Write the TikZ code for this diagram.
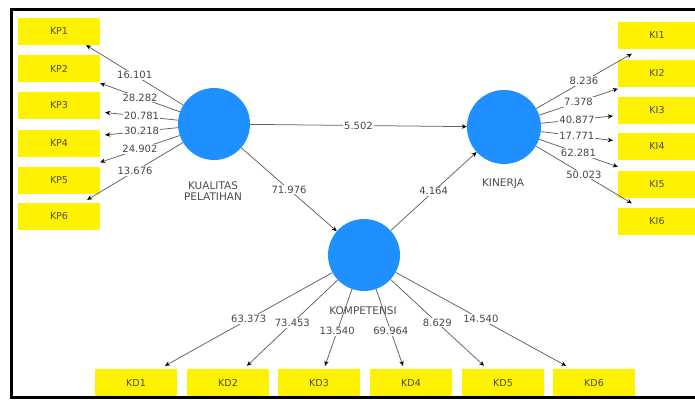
\documentclass[tikz,border=0pt]{standalone}
\usepackage{fontspec}
\setmainfont{DejaVu Sans}
\usetikzlibrary{arrows.meta}
\definecolor{latblue}{RGB}{30,144,255}

\begin{document}
\begin{tikzpicture}[x=1pt,y=-1pt,
  ind/.style={fill=yellow, minimum width=82pt, minimum height=27pt, inner sep=0pt,
    font=\fontsize{9.5}{9.5}\selectfont, text=black!70},
  lat/.style={circle, fill=latblue, minimum size=72pt, inner sep=0pt},
  lname/.style={font=\fontsize{10.5}{11.5}\selectfont, text=black!70, align=center},
  load/.style={draw=black!62, line width=0.75pt, -{Stealth[length=5pt,width=4.5pt,black]}},
  lbl/.style={fill=white, inner sep=1pt, font=\fontsize{10}{10}\selectfont, text=black!72}]
   \useasboundingbox (0,0) rectangle (695,399);

   % indicators of kualitas pelatihan
   \node[ind] (kp1) at (59,31.5) {KP1};
   \node[ind] (kp2) at (59,68.5) {KP2};
   \node[ind] (kp3) at (59,105.5) {KP3};
   \node[ind] (kp4) at (59,143) {KP4};
   \node[ind] (kp5) at (59,180) {KP5};
   \node[ind] (kp6) at (59,216.5) {KP6};

   % indicators of kinerja
   \node[ind, minimum width=78pt] (ki1) at (657,35) {KI1};
   \node[ind, minimum width=78pt] (ki2) at (657,73) {KI2};
   \node[ind, minimum width=78pt] (ki3) at (657,110) {KI3};
   \node[ind, minimum width=78pt] (ki4) at (657,146.5) {KI4};
   \node[ind, minimum width=78pt] (ki5) at (657,184.5) {KI5};
   \node[ind, minimum width=78pt] (ki6) at (657,221) {KI6};

   % indicators of kompetensi
   \node[ind, minimum height=28pt] (kd1) at (136,383) {KD1};
   \node[ind, minimum height=28pt] (kd2) at (228,383) {KD2};
   \node[ind, minimum height=28pt] (kd3) at (319,383) {KD3};
   \node[ind, minimum height=28pt] (kd4) at (411,383) {KD4};
   \node[ind, minimum height=28pt] (kd5) at (503,383) {KD5};
   \node[ind, minimum height=28pt] (kd6) at (594,383) {KD6};

   % latent variables
   \node[lat] (kq) at (214,124) {};
   \node[lat, minimum size=74pt] (kin) at (504,127) {};
   \node[lat] (kom) at (364,255) {};
   \node[lname] at (213,191) {KUALITAS\\PELATIHAN};
   \node[lname] at (503,184) {KINERJA};
   \node[lname] at (363,311) {KOMPETENSI};

   % inner model
   \draw[load] (kq) -- node[lbl] {5.502} (kin);
   \draw[load] (kq) -- node[lbl] {71.976} (kom);
   \draw[load] (kom) -- node[lbl] {4.164} (kin);

   % outer loadings
   \draw[load] (kq) -- node[lbl] {16.101} ([xshift=-14pt]kp1.south east);
   \draw[load] (kq) -- node[lbl] {28.282} ([yshift=-1pt]kp2.south east);
   \draw[load] (kq) -- node[lbl] {20.781} ([xshift=5pt,yshift=-7pt]kp3.east);
   \draw[load] (kq) -- node[lbl] {30.218} ([xshift=5pt,yshift=8pt]kp4.east);
   \draw[load] (kq) -- node[lbl] {24.902} ([yshift=4pt]kp5.north east);
   \draw[load] (kq) -- node[lbl] {13.676} ([xshift=-13pt,yshift=3pt]kp6.north east);

   \draw[load] (kin) -- node[lbl] {8.236} ([xshift=14pt,yshift=-5pt]ki1.south west);
   \draw[load] (kin) -- node[lbl] {7.378} ([yshift=-2pt]ki2.south west);
   \draw[load] (kin) -- node[lbl] {40.877} ([xshift=-5pt,yshift=-6pt]ki3.west);
   \draw[load] (kin) -- node[lbl] {17.771} ([xshift=-5pt,yshift=6pt]ki4.west);
   \draw[load] (kin) -- node[lbl] {62.281} ([yshift=4pt]ki5.north west);
   \draw[load] (kin) -- node[lbl] {50.023} ([xshift=14pt,yshift=4pt]ki6.north west);

   \draw[load] (kom) -- node[lbl] {63.373} ([xshift=29pt,yshift=3pt]kd1.north);
   \draw[load] (kom) -- node[lbl] {73.453} ([xshift=19pt,yshift=3pt]kd2.north);
   \draw[load] (kom) -- node[lbl, pos=0.55] {13.540} ([xshift=6pt,yshift=3pt]kd3.north);
   \draw[load] (kom) -- node[lbl, pos=0.55] {69.964} ([xshift=-8pt,yshift=3pt]kd4.north);
   \draw[load] (kom) -- node[lbl] {8.629} ([xshift=-19pt,yshift=3pt]kd5.north);
   \draw[load] (kom) -- node[lbl] {14.540} ([xshift=-28pt,yshift=3pt]kd6.north);

   % frame
   \draw[line width=3pt] (695,9.5) -- (11.5,9.5) -- (11.5,397.8) -- (695,397.8);
\end{tikzpicture}
\end{document}
